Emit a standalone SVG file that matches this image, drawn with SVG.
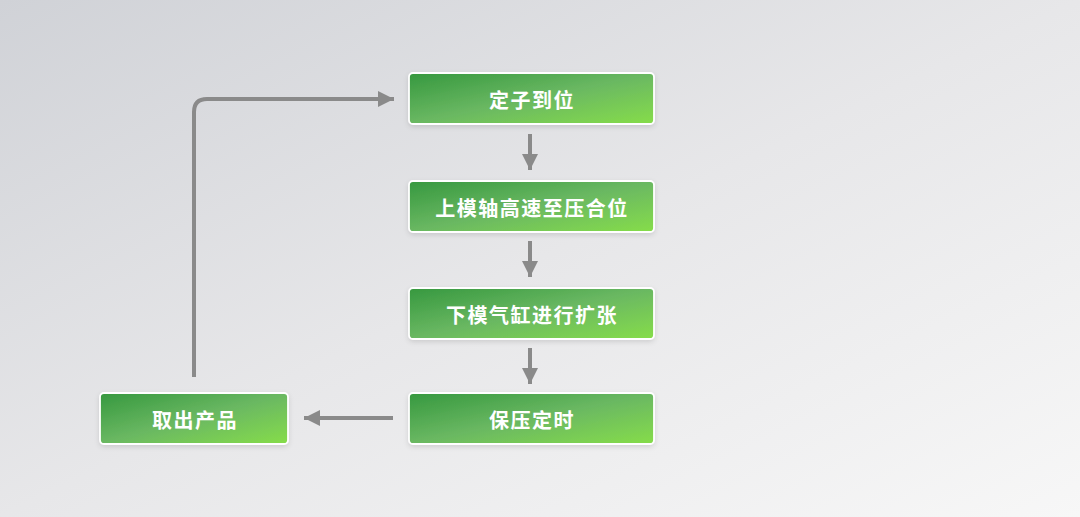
<svg xmlns="http://www.w3.org/2000/svg" width="1080" height="517" viewBox="0 0 1080 517">
<defs>
<linearGradient id="bg" x1="0" y1="0" x2="1" y2="1" gradientUnits="objectBoundingBox">
<stop offset="0" stop-color="#d0d2d7"/>
<stop offset="0.5" stop-color="#e7e7e9"/>
<stop offset="1" stop-color="#f7f7f7"/>
</linearGradient>
<linearGradient id="g" x1="0" y1="0" x2="1" y2="1">
<stop offset="0" stop-color="#36983f"/>
<stop offset="0.5" stop-color="#6ab862"/>
<stop offset="1" stop-color="#86dd4a"/>
</linearGradient>
<filter id="sh" x="-10%" y="-20%" width="120%" height="150%">
<feDropShadow dx="0" dy="2" stdDeviation="2.5" flood-color="#000" flood-opacity="0.12"/>
</filter>
<marker id="ah" viewBox="0 0 10 10" refX="10" refY="5" markerWidth="4" markerHeight="4.4" markerUnits="strokeWidth" orient="auto">
<path d="M0,0 L10,5 L0,10 Z" fill="#8a8a8a"/>
</marker>
<style>
.box{fill:url(#g);stroke:#ffffff;stroke-width:1.8;filter:url(#sh)}
.lbl{fill:#ffffff;font-family:"Noto Sans CJK SC","Noto Sans",sans-serif;font-weight:700;font-size:20px;letter-spacing:1.5px;text-anchor:middle;dominant-baseline:central}
.c{fill:none;stroke:#8a8a8a;stroke-width:4;marker-end:url(#ah)}
</style>
</defs>
<rect width="1080" height="517" fill="url(#bg)"/>
<g id="connectors">
<path class="c" d="M530,134 V170"/>
<path class="c" d="M530,241 V277"/>
<path class="c" d="M530,348 V384"/>
<path class="c" d="M393,418 H304"/>
<path class="c" d="M194,377 V112 Q194,99 207,99 H394"/>
</g>
<g id="n1"><rect class="box" x="409" y="73" width="245" height="51" rx="4"/><text class="lbl" x="532" y="99">定子到位</text></g>
<g id="n2"><rect class="box" x="409" y="181" width="245" height="51" rx="4"/><text class="lbl" x="532" y="207">上模轴高速至压合位</text></g>
<g id="n3"><rect class="box" x="409" y="288" width="245" height="51" rx="4"/><text class="lbl" x="532" y="314">下模气缸进行扩张</text></g>
<g id="n4"><rect class="box" x="409" y="393" width="245" height="51" rx="4"/><text class="lbl" x="532" y="419">保压定时</text></g>
<g id="n5"><rect class="box" x="100" y="393" width="188" height="51" rx="4"/><text class="lbl" x="195" y="419">取出产品</text></g>
</svg>
